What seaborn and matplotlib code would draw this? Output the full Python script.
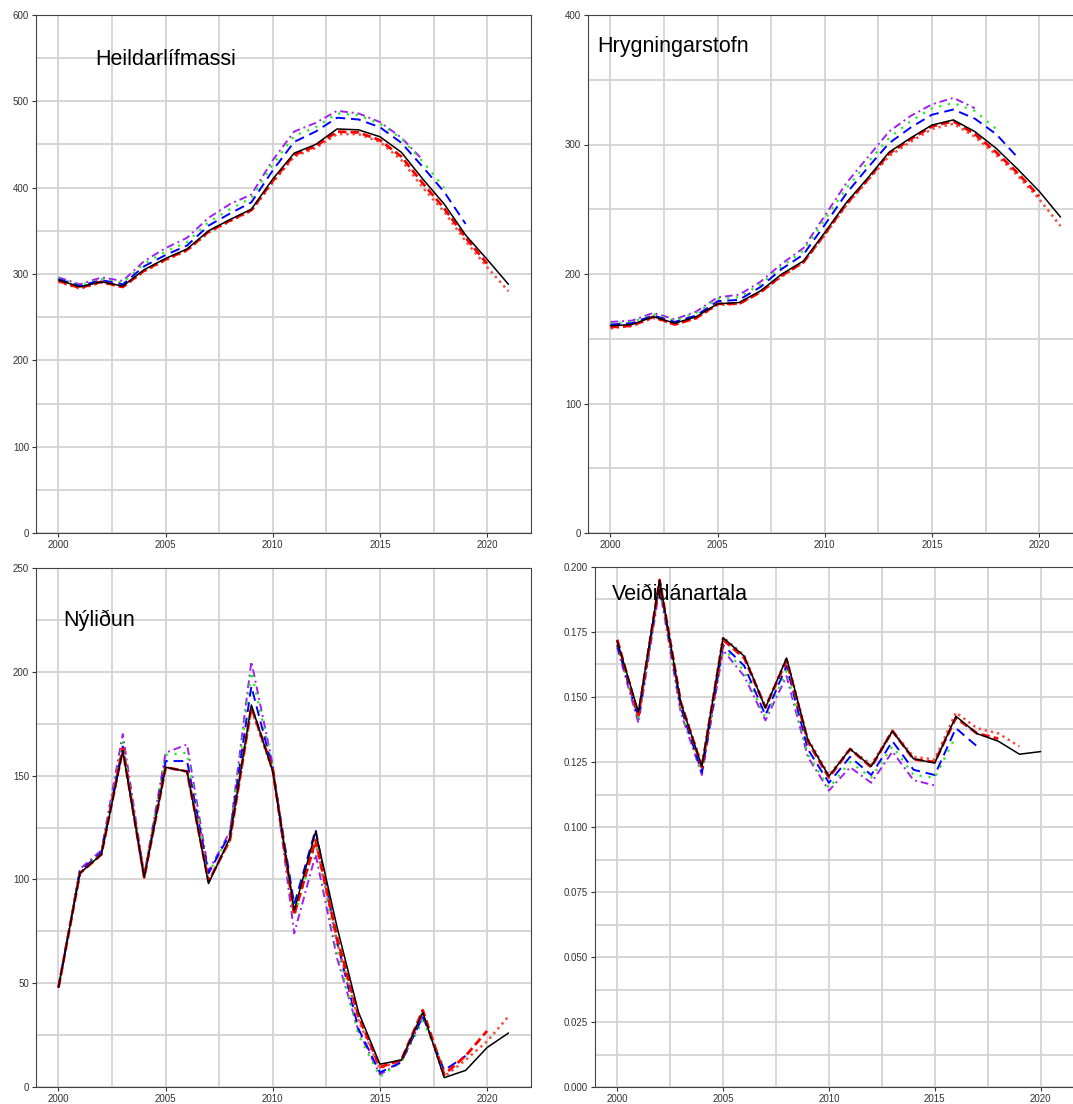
import numpy as np
import pandas as pd
import matplotlib
matplotlib.use("Agg")
import matplotlib.pyplot as plt
import seaborn as sns

# Retrospective runs: black = latest, then older runs (red dashed, tomato dotted,
# blue dashed, green dotted, purple dash-dot)
years = list(range(2000, 2022))

# Heildarlifmassi (total biomass)
bio_black = [293, 285, 291, 286, 305, 318, 329, 350, 363, 375, 410, 440, 450, 468, 467, 459, 441, 410, 381, 345, 317, 288]
bio_red = [292, 284, 291, 285, 304, 317, 328, 349, 362, 374, 408, 438, 448, 465, 464, 455, 436, 405, 376, 342, 312]
bio_tomato = [291, 283, 290, 285, 303, 316, 327, 348, 361, 373, 406, 436, 446, 462, 462, 453, 432, 400, 372, 338, 308, 280]
bio_blue = [294, 286, 293, 288, 309, 322, 333, 356, 370, 383, 420, 453, 465, 481, 479, 470, 452, 424, 395, 358]
bio_green = [295, 287, 294, 290, 312, 326, 337, 360, 375, 388, 427, 460, 470, 486, 484, 474, 457, 430, 400]
bio_purple = [296, 288, 296, 292, 315, 330, 342, 365, 381, 392, 432, 465, 475, 489, 486, 476, 458, 432]

# Hrygningarstofn (spawning stock)
ssb_black = [160, 161, 167, 162, 167, 177, 178, 187, 200, 210, 232, 255, 274, 294, 305, 315, 319, 310, 297, 281, 264, 244]
ssb_red = [159, 160, 167, 161, 166, 177, 177, 186, 199, 209, 231, 254, 273, 293, 304, 314, 318, 308, 294, 278, 260]
ssb_tomato = [158, 160, 166, 161, 166, 176, 177, 186, 198, 209, 230, 253, 272, 291, 302, 312, 316, 306, 292, 276, 258, 237]
ssb_blue = [161, 162, 168, 163, 168, 179, 180, 190, 204, 215, 238, 262, 282, 301, 313, 323, 327, 320, 308, 290]
ssb_green = [162, 163, 169, 164, 170, 181, 182, 192, 206, 218, 242, 266, 286, 305, 318, 328, 332, 326, 312]
ssb_purple = [163, 164, 170, 165, 171, 182, 184, 194, 208, 220, 245, 270, 290, 310, 322, 331, 336, 328]

# Nylidun (recruitment)
rec_black = [48, 103, 112, 162, 101, 154, 152, 98, 120, 184, 152, 85, 123, 77, 36, 11, 13, 36, 4.5, 8, 19, 26]
rec_red = [48, 103, 112, 163, 101, 154, 152, 99, 119, 183, 153, 83, 119, 72, 34, 9.6, 13, 37, 6, 15, 27]
rec_tomato = [48, 103, 112, 162, 101, 154, 152, 99, 119, 182, 152, 84, 118, 70, 32, 9, 13, 36, 5, 13, 22, 34]
rec_blue = [48, 104, 113, 164, 101, 157, 157, 103, 122, 193, 153, 88, 124, 70, 28, 7, 12, 34, 8, 15]
rec_green = [48, 104, 113, 166, 102, 160, 161, 103, 122, 200, 154, 82, 118, 66, 25, 5, 12, 32, 9]
rec_purple = [48, 105, 114, 170, 102, 161, 165, 104, 123, 205, 155, 74, 112, 62, 27, 6, 12, 34]

# Veididanartala (fishing mortality), one year shorter
f_black = [0.1715, 0.1442, 0.195, 0.1478, 0.1233, 0.1728, 0.1657, 0.1458, 0.165, 0.1336, 0.1195, 0.130, 0.1233, 0.1368, 0.1262, 0.1246, 0.1426, 0.1359, 0.133, 0.128, 0.129]
f_red = [0.172, 0.143, 0.195, 0.148, 0.123, 0.172, 0.165, 0.146, 0.164, 0.133, 0.119, 0.130, 0.123, 0.137, 0.126, 0.125, 0.142, 0.136, 0.134]
f_tomato = [0.172, 0.143, 0.195, 0.148, 0.124, 0.173, 0.166, 0.146, 0.165, 0.134, 0.120, 0.130, 0.124, 0.137, 0.127, 0.126, 0.144, 0.138, 0.136, 0.131]
f_blue = [0.170, 0.142, 0.194, 0.146, 0.121, 0.170, 0.162, 0.143, 0.162, 0.130, 0.117, 0.127, 0.120, 0.133, 0.122, 0.120, 0.138, 0.131]
f_green = [0.170, 0.141, 0.193, 0.145, 0.121, 0.169, 0.160, 0.142, 0.160, 0.128, 0.115, 0.125, 0.119, 0.131, 0.120, 0.119, 0.135]
f_purple = [0.169, 0.140, 0.192, 0.144, 0.120, 0.168, 0.158, 0.141, 0.158, 0.127, 0.114, 0.123, 0.117, 0.129, 0.118, 0.116]

runs = ["purple", "green", "blue", "tomato", "red", "black"]
colors = {"black": "black", "red": "#FF0000", "tomato": "#EE5544",
          "blue": "#0000FF", "green": "#22EE22", "purple": "#A020F0"}
dashes = {"black": "", "red": (3, 1.5), "tomato": (1, 1.5),
          "blue": (5, 3), "green": (1, 3), "purple": (4, 2, 1, 2)}
widths = {"black": 1.1, "red": 2.0, "tomato": 1.8, "blue": 1.4, "green": 1.6, "purple": 1.4}

panels = [
    ("Heildarlífmassi", dict(black=bio_black, red=bio_red, tomato=bio_tomato, blue=bio_blue, green=bio_green, purple=bio_purple),
     (0, 600), 100, 50, "{:.0f}", (2001.7, 548)),
    ("Hrygningarstofn", dict(black=ssb_black, red=ssb_red, tomato=ssb_tomato, blue=ssb_blue, green=ssb_green, purple=ssb_purple),
     (0, 400), 100, 50, "{:.0f}", (1999.4, 376)),
    ("Nýliðun", dict(black=rec_black, red=rec_red, tomato=rec_tomato, blue=rec_blue, green=rec_green, purple=rec_purple),
     (0, 250), 50, 25, "{:.0f}", (2000.2, 225)),
    ("Veiðidánartala", dict(black=f_black, red=f_red, tomato=f_tomato, blue=f_blue, green=f_green, purple=f_purple),
     (0, 0.2), 0.025, 0.0125, "{:.3f}", (1999.75, 0.1895)),
]

sns.set_style("white")
plt.rcParams["font.family"] = ["Liberation Sans", "DejaVu Sans"]

W, H = 1073, 1104
fig = plt.figure(figsize=(W / 100, H / 100), dpi=100)
# pixel boxes: left, top, right, bottom
boxes = [(36, 15, 531, 533), (588, 15, 1083, 533), (36, 568, 531, 1087), (595, 567, 1084, 1087)]

for (title, series, ylim, major, minor, fmt, tpos), (l, t, r, b) in zip(panels, boxes):
    ax = fig.add_axes([l / W, 1 - b / H, (r - l) / W, (b - t) / H])
    rows = []
    for run in runs:
        vals = series[run]
        for yr, v in zip(years, vals):
            rows.append((run, yr, v))
    df = pd.DataFrame(rows, columns=["run", "year", "value"])
    for run in runs:
        d = df[df["run"] == run]
        sns.lineplot(data=d, x="year", y="value", ax=ax, color=colors[run],
                     linewidth=widths[run], dashes=False, legend=False, zorder=3)
        ln = ax.get_lines()[-1]
        if dashes[run]:
            ln.set_dashes(dashes[run])
    ax.set_xlim(1998.95, 2022.05)
    ax.set_ylim(*ylim)
    ax.set_xticks([2000, 2005, 2010, 2015, 2020])
    ax.set_xticks([2002.5, 2007.5, 2012.5, 2017.5], minor=True)
    yt = np.arange(ylim[0], ylim[1] + major / 2, major)
    ax.set_yticks(yt)
    ax.set_yticklabels([fmt.format(v) for v in yt])
    ax.set_yticks(np.arange(ylim[0] + minor, ylim[1], major), minor=True)
    ax.grid(True, which="both", color="#D3D3D3", linewidth=1.3, zorder=0)
    ax.set_axisbelow(True)
    ax.tick_params(which="major", direction="out", length=3, width=0.8,
                   labelsize=7, colors="#333333", pad=2, left=True, bottom=True)
    ax.tick_params(which="minor", length=0)
    for sp in ax.spines.values():
        sp.set_color("#444444")
        sp.set_linewidth(0.8)
    ax.set_xlabel("")
    ax.set_ylabel("")
    ax.text(tpos[0], tpos[1], title, fontsize=15.5, ha="left", va="center", color="black")

fig.savefig("out.png", dpi=100)
